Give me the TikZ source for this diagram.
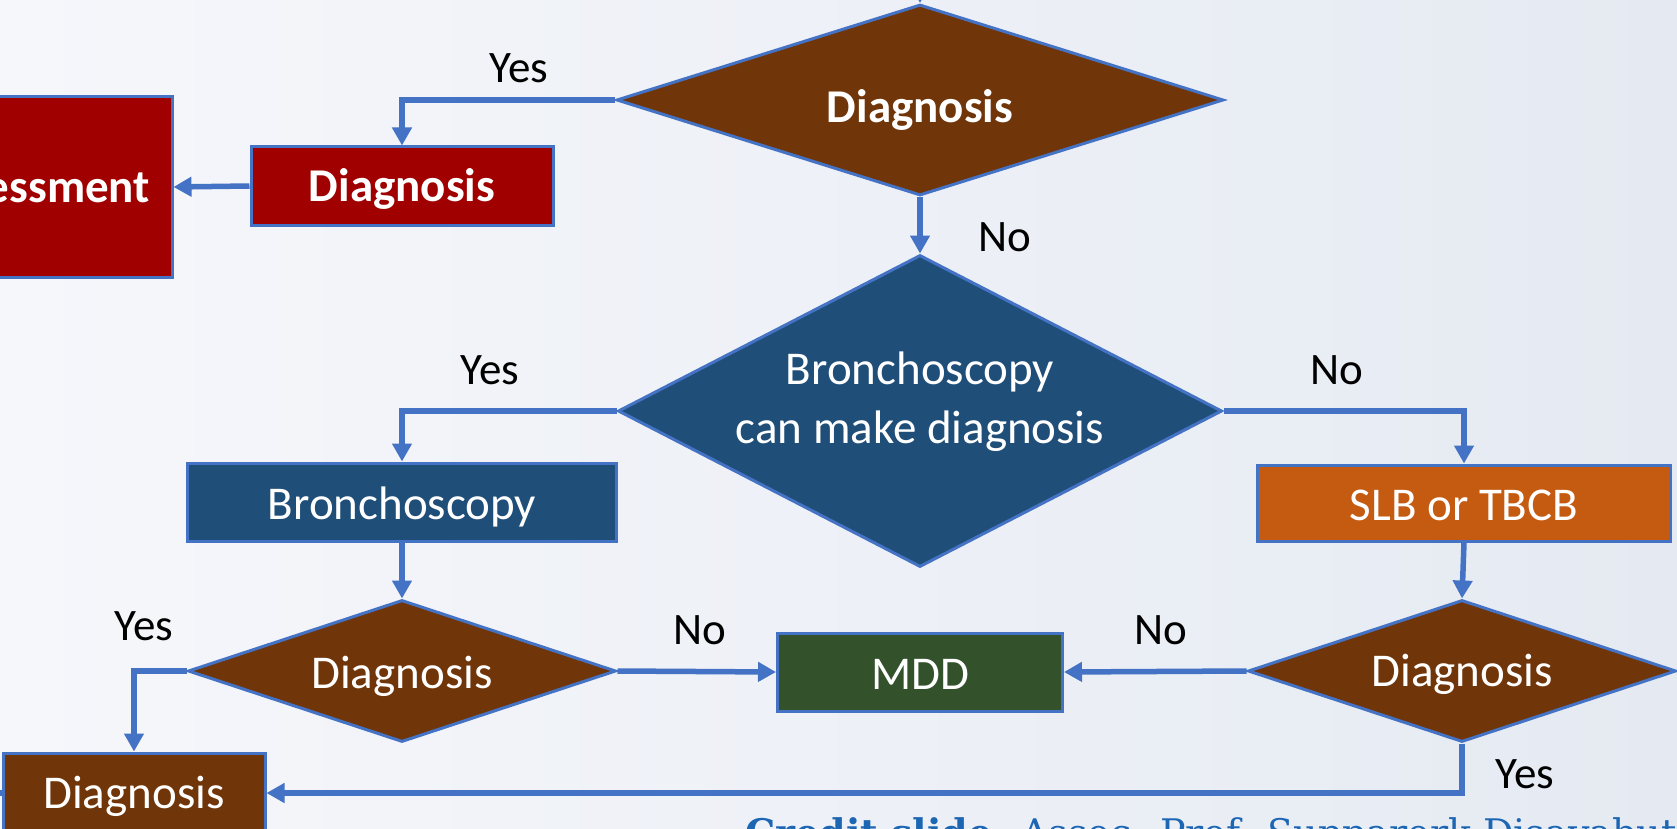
\documentclass[tikz,border=0pt]{standalone}
\usepackage{fontspec}
\setmainfont{Carlito}
\newfontfamily\creditfont{DejaVu Serif}
\usetikzlibrary{shapes.geometric,arrows.meta}

\definecolor{edge}{RGB}{68,114,196}
\definecolor{darkred}{RGB}{160,0,0}
\definecolor{brownbox}{RGB}{112,53,8}
\definecolor{bluebox}{RGB}{31,78,121}
\definecolor{orangebox}{RGB}{197,90,17}
\definecolor{greenbox}{RGB}{51,82,43}
\definecolor{creditblue}{RGB}{28,102,180}
\definecolor{bgleft}{RGB}{246,247,251}
\definecolor{bgright}{RGB}{229,234,242}

\tikzset{
  % text box = cap height, so the capitals sit on the node centre
  txt/.style={font=\fontsize{47}{59}\selectfont, text height=30pt, text depth=0pt},
  boldtxt/.style={font=\fontsize{47}{59}\selectfont\bfseries, text height=30pt, text depth=0pt},
  lower/.style={text height=#1},
  box/.style={rectangle, draw=edge, line width=3pt, text=white, inner sep=0pt},
  decision/.style={diamond, draw=edge, line width=3pt, text=white, inner sep=0pt},
  flow/.style={draw=edge, line width=5.5pt, -{Triangle[length=18pt,width=19pt]}},
  link/.style={draw=edge, line width=5.5pt},
  answer/.style={font=\fontsize{45}{54}\selectfont, text=black, inner sep=0pt},
}

\begin{document}
\begin{tikzpicture}[x=1pt, y=-1pt]
  \clip (0,0) rectangle (1677,829);
  \shade[left color=bgleft, right color=bgright] (0,0) rectangle (1677,829);

  % first decision and the assessment branch
  \node[decision, boldtxt, lower=46pt, fill=brownbox, minimum width=607, minimum height=191, shape aspect=3.2] (q1) at (920,100) {Diagnosis};
  \node[box, boldtxt, fill=darkred, minimum width=302, minimum height=78] (dx1) at (402,186) {Diagnosis};
  \node[box, boldtxt, fill=darkred, minimum width=274, minimum height=180] (assess) at (35,187) {Assessment};

  % bronchoscopy decision
  \node[decision, txt, text height=30pt, text depth=84pt, fill=bluebox, minimum width=604, minimum height=312, shape aspect=5]
    (q2) at (920,411) {\makebox[0pt]{\begin{tabular}[t]{@{}c@{}}Bronchoscopy\\can make diagnosis\end{tabular}}};
  \node[box, txt, lower=34pt, fill=bluebox, minimum width=429, minimum height=78] (bronch) at (402,502) {Bronchoscopy};
  \node[box, txt, lower=34pt, fill=orangebox, minimum width=413, minimum height=76] (slb) at (1464,503) {SLB or TBCB};

  % lower decisions
  \node[decision, txt, lower=34pt, fill=brownbox, minimum width=428, minimum height=142, shape aspect=3] (q3) at (402,671) {Diagnosis};
  \node[decision, txt, fill=brownbox, minimum width=428, minimum height=142, shape aspect=3] (q4) at (1462,671) {Diagnosis};
  \node[box, txt, lower=34pt, fill=greenbox, minimum width=285, minimum height=78] (mdd) at (920,672) {MDD};
  \node[box, txt, fill=brownbox, minimum width=262, minimum height=80] (dx2) at (134,793) {Diagnosis};

  % incoming and outgoing stubs
  \coordinate (intop) at (920,-40);
  \coordinate (outleft) at (-40,793);

  % connectors
  \draw[flow] (intop) -- (q1.north);
  \draw[flow] (q1.west) -| (dx1.north);
  \draw[flow] (dx1.west) -- (assess.east);
  \draw[flow] (q1.south) -- (q2.north);
  \draw[flow] (q2.west) -| (bronch.north);
  \draw[flow] (q2.east) -| (slb.north);
  \draw[flow] (bronch.south) -- (q3.north);
  \draw[flow] (slb.south) -- (q4.north);
  \draw[flow] (q3.east) -- (mdd.west);
  \draw[flow] (q4.west) -- (mdd.east);
  \draw[flow] (q3.west) -| (dx2.north);
  \draw[flow] (q4.south) |- (dx2.east);
  \draw[link] (outleft) -- (dx2.west);

  % branch labels
  \node[answer] (y1) at (519,68) {Yes};
  \node[answer] (n1) at (1005,237) {No};
  \node[answer] (y2) at (490,370) {Yes};
  \node[answer] (n2) at (1337,370) {No};
  \node[answer] (y3) at (144,626) {Yes};
  \node[answer] (n3) at (700,630) {No};
  \node[answer] (n4) at (1161,630) {No};
  \node[answer] (y4) at (1525,774) {Yes};

  % credit line
  \node[anchor=base west, inner sep=0pt, text=creditblue, font=\creditfont\fontsize{38}{46}\selectfont] (credit) at (745,846)
    {\textbf{Credit slide}: Assoc. Prof. Supparerk Disayabutr};
\end{tikzpicture}
\end{document}
